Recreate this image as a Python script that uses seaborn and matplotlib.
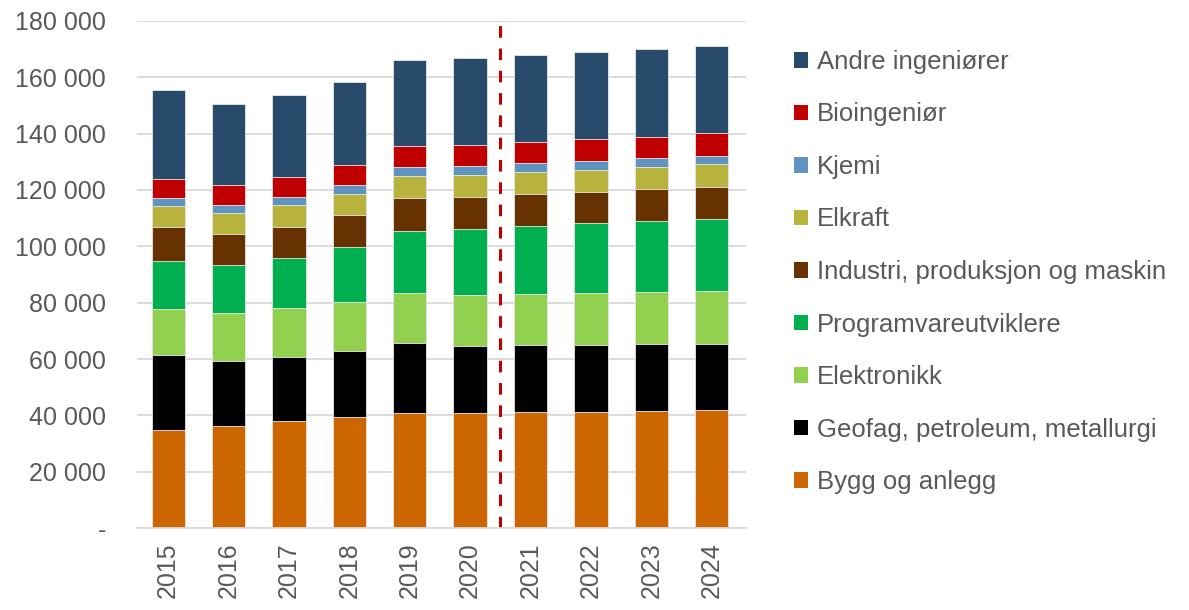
import numpy as np
import pandas as pd
import matplotlib
matplotlib.use("Agg")
import matplotlib.pyplot as plt
import seaborn as sns
from matplotlib.patches import Patch

## DATA
years = ["2015", "2016", "2017", "2018", "2019", "2020", "2021", "2022", "2023", "2024"]
bygg = [35000, 36300, 38000, 39400, 40800, 40800, 41100, 41300, 41600, 41800]
geofag = [26300, 23100, 22800, 23600, 25000, 23900, 23800, 23800, 23700, 23700]
elektronikk = [16600, 16900, 17200, 17300, 17700, 18100, 18300, 18500, 18600, 18700]
programvare = [17000, 17100, 18000, 19400, 22000, 23400, 23900, 24500, 25000, 25600]
industri = [11900, 11000, 10900, 11300, 11500, 11400, 11400, 11100, 11400, 11300]
elkraft = [7500, 7300, 7600, 7500, 8100, 7700, 7700, 8000, 7800, 8000]
kjemi = [2700, 3000, 3000, 3100, 3200, 3200, 3200, 3100, 3100, 3100]
bio = [7000, 7000, 7100, 7100, 7200, 7500, 7600, 7600, 7700, 8000]
andre = [31400, 28700, 29100, 29500, 30500, 30700, 30900, 31000, 30900, 30700]

labels = ["Bygg og anlegg", "Geofag, petroleum, metallurgi", "Elektronikk",
          "Programvareutviklere", "Industri, produksjon og maskin", "Elkraft",
          "Kjemi", "Bioingeniør", "Andre ingeniører"]
colors = ["#CC6600", "#000000", "#92D050", "#00B050", "#663300", "#B8B33D",
          "#5F94C0", "#C00000", "#284B6B"]

df = pd.DataFrame(dict(zip(labels, [bygg, geofag, elektronikk, programvare, industri,
                                    elkraft, kjemi, bio, andre])), index=years)
cum = df.cumsum(axis=1)

plt.rcParams['font.family'] = ['Liberation Sans', 'DejaVu Sans']
fig = plt.figure(figsize=(11.89, 6.10), dpi=100)
ax = fig.add_axes([0.115, 0.134, 0.512, 0.832])

# stacked bars: draw cumulative totals from the top down
for lab, col in reversed(list(zip(labels, colors))):
    sns.barplot(x=years, y=cum[lab].values, color=col, width=0.55,
                saturation=1, ax=ax, linewidth=0.6, edgecolor="#E8E8E8")

ax.set_ylim(0, 180000)
ax.set_xlim(-0.52, 9.56)
ax.set_yticks(np.arange(0, 180001, 20000))
ax.set_yticklabels(["-"] + [f"{v:,}".replace(",", " ") for v in range(20000, 180001, 20000)])
ax.yaxis.grid(True, color="#D9D9D9", linewidth=1.3)
ax.set_axisbelow(True)
for s in ["top", "right", "left"]:
    ax.spines[s].set_visible(False)
ax.spines["bottom"].set_color("#D9D9D9")
ax.spines["bottom"].set_linewidth(1.3)
ax.tick_params(axis="both", length=0, labelsize=18, colors="#595959", pad=10)
ax.tick_params(axis="y", pad=22)
plt.setp(ax.get_xticklabels(), rotation=90)

ax.axvline(5.5, color="#C00000", linestyle=(0, (3.8, 3.5)), linewidth=2.2)

handles = [Patch(facecolor=c, label=l) for l, c in zip(labels, colors)][::-1]
fig.legend(handles=handles, loc="upper left", bbox_to_anchor=(0.659, 0.935),
           frameon=False, fontsize=18.5, labelcolor="#595959",
           handlelength=0.55, handleheight=0.55, handletextpad=0.35,
           labelspacing=1.11, borderaxespad=0)

fig.savefig("out.png", dpi=100)
